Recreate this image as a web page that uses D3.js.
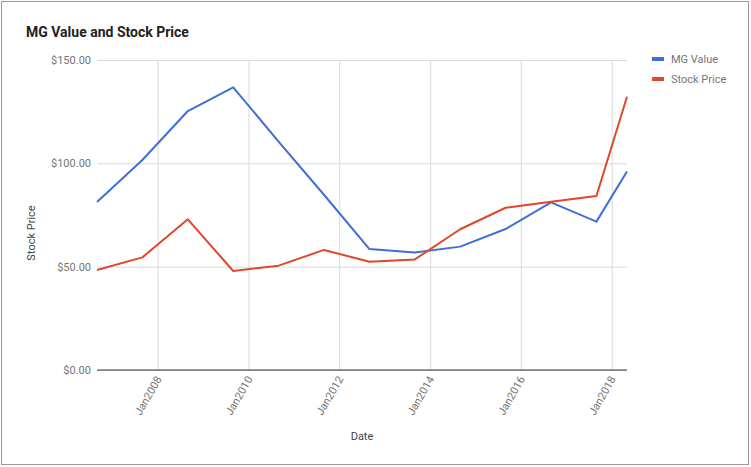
<!DOCTYPE html>
<html>
<head>
<meta charset="utf-8">
<script src="https://cdn.jsdelivr.net/npm/d3@7"></script>
<style>
  html, body { margin: 0; padding: 0; background: #fff; }
  svg { display: block; font-family: Roboto, Arial, sans-serif; }
</style>
</head>
<body>
<svg id="chart" width="751" height="467"></svg>
<script>
const dates = ["2006-08-31","2007-08-31","2008-08-31","2009-08-31","2010-08-31","2011-08-31","2012-08-31","2013-08-31","2014-08-31","2015-08-31","2016-08-31","2017-08-31","2018-05-04"];
const mgValue = [81.3, 101.6, 125.3, 136.8, 110.5, 84.8, 58.5, 56.8, 59.7, 68.2, 81.1, 71.8, 96.0];
const stockPrice = [48.4, 54.5, 72.9, 47.9, 50.5, 58.1, 52.4, 53.5, 68.1, 78.5, 81.4, 84.2, 132.2];
const yTicks = [0, 50, 100, 150];
const xTickYears = [2008, 2010, 2012, 2014, 2016, 2018];
const seriesNames = ["MG Value", "Stock Price"];
const seriesColors = ["#3f6fd6", "#e0472b"];

const parse = d3.timeParse("%Y-%m-%d");
const dts = dates.map(parse);
const svg = d3.select("#chart");

// outer border
svg.append("rect").attr("x", 1.5).attr("y", 1.5).attr("width", 747).attr("height", 463)
  .attr("fill", "#fff").attr("stroke", "#9a9a9a").attr("stroke-width", 1);

const pL = 97, pR = 627, pT = 60, pB = 370;
const x = d3.scaleTime().domain(d3.extent(dts)).range([pL, pR]);
const y = d3.scaleLinear().domain([0, 150]).range([pB, pT]);

// title
svg.append("text").attr("x", 26).attr("y", 37).text("MG Value and Stock Price")
  .attr("font-size", 14).attr("font-weight", "bold").attr("fill", "#222");

// horizontal gridlines
const yAxis = d3.axisLeft(y).tickValues(yTicks).tickSize(-(pR - pL)).tickPadding(6)
  .tickFormat(d => "$" + d3.format(".2f")(d));
const gy = svg.append("g").attr("transform", `translate(${pL},0)`).call(yAxis);
gy.select(".domain").remove();
gy.selectAll(".tick line").attr("stroke", "#d9d9d9");
gy.selectAll(".tick text").attr("font-size", 11).attr("fill", "#757575").attr("font-family", "Roboto, Arial, sans-serif");

// vertical gridlines + labels
const xTickDates = xTickYears.map(yr => new Date(yr, 0, 1));
const xAxis = d3.axisBottom(x).tickValues(xTickDates).tickSize(-(pB - pT)).tickFormat(d3.timeFormat("Jan%Y"));
const gx = svg.append("g").attr("transform", `translate(0,${pB})`).call(xAxis);
gx.select(".domain").remove();
gx.selectAll(".tick line").attr("stroke", "#d9d9d9");
gx.selectAll(".tick text").attr("font-size", 11).attr("fill", "#757575")
  .attr("font-family", "Roboto, Arial, sans-serif")
  .attr("text-anchor", "end").attr("dy", null).attr("y", 0)
  .attr("transform", "translate(4,9) rotate(-60)");

// baseline
svg.append("line").attr("x1", pL).attr("x2", pR).attr("y1", y(0)).attr("y2", y(0))
  .attr("stroke", "#333").attr("stroke-width", 1);

// lines
const series = [mgValue, stockPrice];
const line = d3.line().x((d, i) => x(dts[i])).y(d => y(d));
series.forEach((vals, k) => {
  svg.append("path").datum(vals).attr("d", line).attr("fill", "none")
    .attr("stroke", seriesColors[k]).attr("stroke-width", 2).attr("stroke-linejoin", "round");
});

// axis titles
svg.append("text").attr("transform", "translate(35,233) rotate(-90)").attr("text-anchor", "middle")
  .attr("font-size", 11).attr("fill", "#444").text("Stock Price");
svg.append("text").attr("x", 362).attr("y", 440).attr("text-anchor", "middle")
  .attr("font-size", 11).attr("fill", "#444").text("Date");

// legend
seriesNames.forEach((name, k) => {
  const ly = 59 + k * 20;
  svg.append("rect").attr("x", 652).attr("y", ly - 2).attr("width", 12).attr("height", 4).attr("fill", seriesColors[k]);
  svg.append("text").attr("x", 671).attr("y", ly + 4).attr("font-size", 11).attr("fill", "#757575").text(name);
});
</script>
</body>
</html>
